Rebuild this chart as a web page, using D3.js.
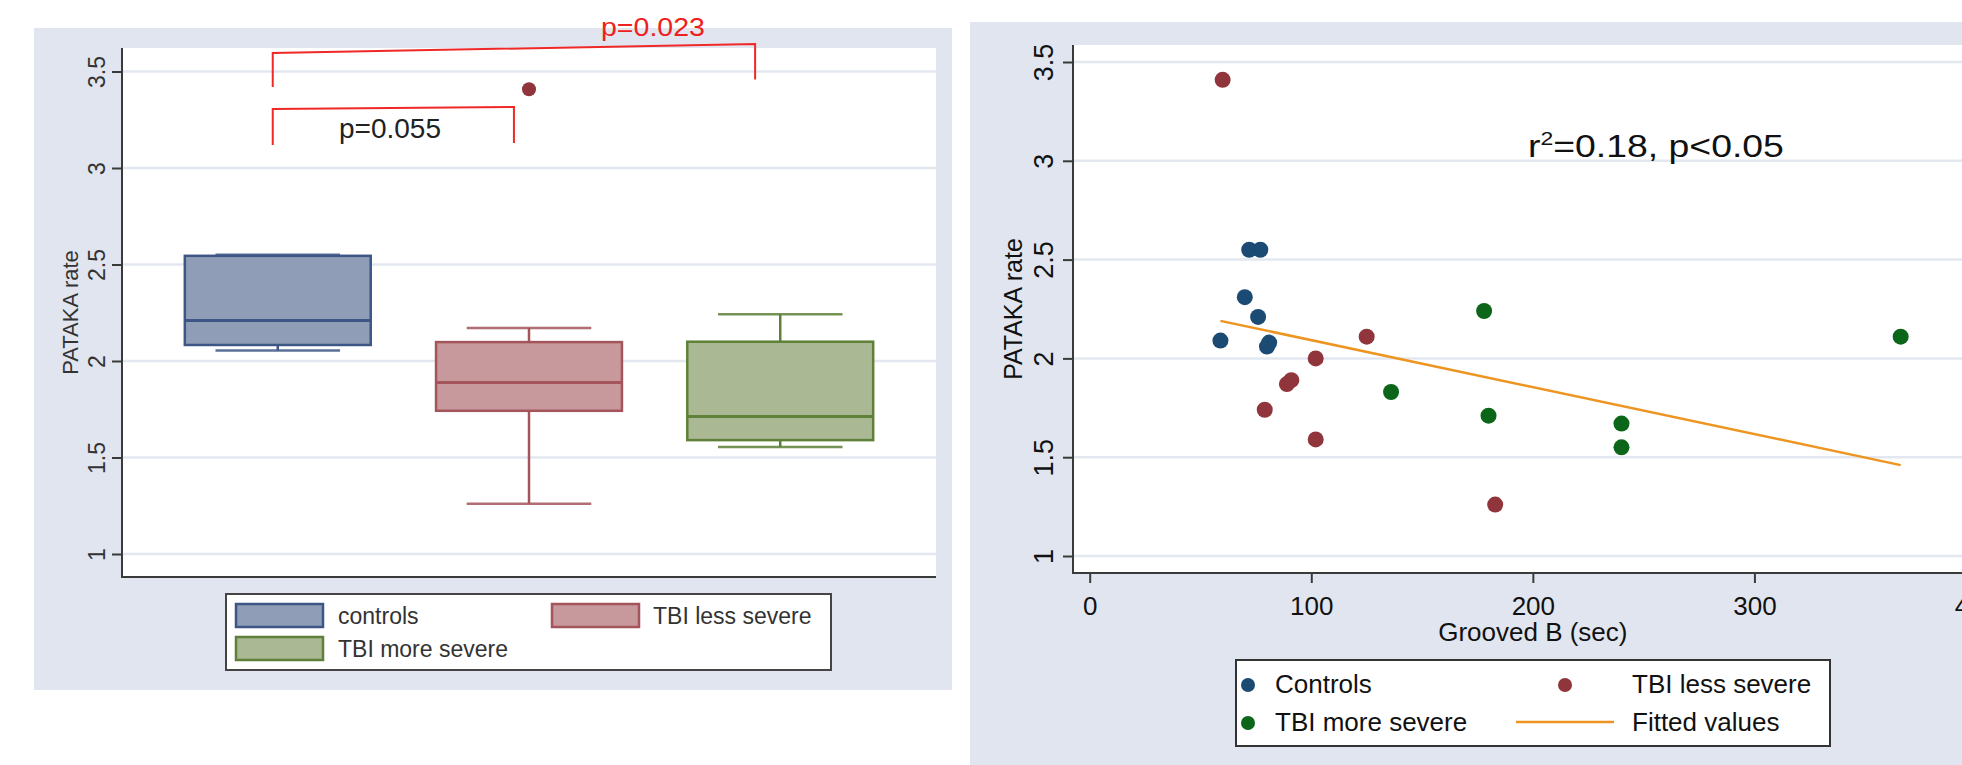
<!DOCTYPE html>
<html><head><meta charset="utf-8">
<script src="https://cdn.jsdelivr.net/npm/d3@7"></script>
<style>
body{margin:0;background:#fff}
svg{display:block}
text{font-family:"Liberation Sans", Arial, sans-serif}
</style>
</head><body>
<svg id="c" width="1962" height="765"></svg>
<script>
// ---------- DATA ----------
// Left: box plot summary per group
const groups = ["controls", "TBI less severe", "TBI more severe"];
const boxWhiskerLow  = [2.055, 1.261, 1.554];
const boxQ1          = [2.083, 1.742, 1.590];
const boxMedian      = [2.210, 1.888, 1.712];
const boxQ3          = [2.545, 2.098, 2.100];
const boxWhiskerHigh = [2.550, 2.171, 2.242];
const outlierGroup   = ["TBI less severe"];
const outlierValue   = [3.408];
const yTicks = [1, 1.5, 2, 2.5, 3, 3.5];
// significance brackets (group-index positions, y values)
const bracketX0 = [-0.02, -0.02];
const bracketX1 = [0.94, 1.90];
const bracketYTop0 = [3.306, 3.596];
const bracketYTop1 = [3.316, 3.642];
const bracketYBot0 = [3.119, 3.420];
const bracketYBot1 = [3.130, 3.459];
const bracketLabels = ["p=0.055", "p=0.023"];

// Right: scatter
const controlsX = [59, 70, 72, 77, 76, 80, 81];
const controlsY = [2.09, 2.31, 2.55, 2.55, 2.21, 2.06, 2.08];
const lessX = [60, 102, 125, 89, 91, 79, 102, 183];
const lessY = [3.41, 2.00, 2.11, 1.87, 1.89, 1.74, 1.59, 1.26];
const moreX = [178, 136, 180, 240, 240, 366];
const moreY = [2.24, 1.83, 1.71, 1.67, 1.55, 2.11];
const fitX = [59, 366];
const fitY = [2.19, 1.46];
const xTicks = [0, 100, 200, 300, 400];
const seriesNames = ["Controls", "TBI less severe", "TBI more severe", "Fitted values"];

// ---------- STYLE ----------
const BG = "#e0e5ef", GRID = "#e2e7f0", AXIS = "#3a3a3a";
const boxFill = ["#8f9db6", "#c8999c", "#abb894"];
const boxStroke = ["#3e5685", "#a4545b", "#5e8038"];
const dotCol = {c: "#1b4a73", l: "#8f353b", m: "#0b661a"};
const lineCol = "#ee9420";

const svg = d3.select("#c");

// ================= LEFT PANEL =================
svg.append("rect").attr("x",34).attr("y",28).attr("width",918).attr("height",662).attr("fill",BG);
const L = {left:122, right:936, top:48, bottom:577};
svg.append("rect").attr("x",L.left).attr("y",L.top).attr("width",L.right-L.left).attr("height",L.bottom-L.top).attr("fill","#fff");

const yL = d3.scaleLinear().domain([1,3.5]).range([554,71.5]);
const xL = d3.scaleBand().domain(groups).range([L.left,L.right]).paddingInner(0.26).paddingOuter(0.25);
const xIdx = d3.scaleLinear().domain([0,2]).range([xL(groups[0])+xL.bandwidth()/2, xL(groups[2])+xL.bandwidth()/2]);

svg.append("g").selectAll("line").data(yTicks).join("line")
  .attr("x1",L.left).attr("x2",L.right).attr("y1",d=>yL(d)).attr("y2",d=>yL(d))
  .attr("stroke",GRID).attr("stroke-width",2.5);

// axes
const axL = svg.append("g").attr("transform",`translate(${L.left},0)`)
  .call(d3.axisLeft(yL).tickValues(yTicks).tickSize(10).tickSizeOuter(0).tickFormat(d3.format("")));
axL.select(".domain").remove();
axL.selectAll(".tick line").attr("stroke",AXIS).attr("stroke-width",2);
axL.selectAll(".tick text").attr("transform","rotate(-90)").attr("x",0).attr("y",-17).attr("dy",null)
  .attr("text-anchor","middle").attr("font-size",23).attr("fill","#333").attr("font-family",null);
svg.append("line").attr("x1",L.left).attr("x2",L.left).attr("y1",L.top).attr("y2",L.bottom).attr("stroke",AXIS).attr("stroke-width",2);
svg.append("line").attr("x1",L.left-1).attr("x2",L.right).attr("y1",L.bottom).attr("y2",L.bottom).attr("stroke",AXIS).attr("stroke-width",2);
svg.append("text").attr("transform",`translate(78,${(L.top+L.bottom)/2}) rotate(-90)`)
  .attr("text-anchor","middle").attr("font-size",22).attr("fill","#333").text("PATAKA rate");

// boxes
const bw = xL.bandwidth(), capW = bw*0.67;
groups.forEach((g,i)=>{
  const cx = xL(g)+bw/2;
  const gg = svg.append("g");
  gg.append("line").attr("x1",cx).attr("x2",cx).attr("y1",yL(boxWhiskerHigh[i])).attr("y2",yL(boxQ3[i]))
    .attr("stroke",boxStroke[i]).attr("stroke-width",2.5);
  gg.append("line").attr("x1",cx).attr("x2",cx).attr("y1",yL(boxQ1[i])).attr("y2",yL(boxWhiskerLow[i]))
    .attr("stroke",boxStroke[i]).attr("stroke-width",2.5);
  [boxWhiskerHigh[i], boxWhiskerLow[i]].forEach(v=>{
    gg.append("line").attr("x1",cx-capW/2).attr("x2",cx+capW/2).attr("y1",yL(v)).attr("y2",yL(v))
      .attr("stroke",boxStroke[i]).attr("stroke-width",2.5).attr("stroke-opacity",0.85);
  });
  gg.append("rect").attr("x",xL(g)).attr("width",bw).attr("y",yL(boxQ3[i])).attr("height",yL(boxQ1[i])-yL(boxQ3[i]))
    .attr("fill",boxFill[i]).attr("stroke",boxStroke[i]).attr("stroke-width",2.5);
  gg.append("line").attr("x1",xL(g)).attr("x2",xL(g)+bw).attr("y1",yL(boxMedian[i])).attr("y2",yL(boxMedian[i]))
    .attr("stroke",boxStroke[i]).attr("stroke-width",3);
});
svg.append("g").selectAll("circle").data(outlierValue).join("circle")
  .attr("cx",(d,i)=>xL(outlierGroup[i])+bw/2).attr("cy",d=>yL(d)).attr("r",7).attr("fill",dotCol.l);

// brackets
bracketLabels.forEach((lab,i)=>{
  const p = [[xIdx(bracketX0[i]), yL(bracketYBot0[i])],[xIdx(bracketX0[i]), yL(bracketYTop0[i])],
             [xIdx(bracketX1[i]), yL(bracketYTop1[i])],[xIdx(bracketX1[i]), yL(bracketYBot1[i])]];
  svg.append("path").attr("d",d3.line()(p)).attr("fill","none").attr("stroke","#f02828").attr("stroke-width",2);
});
svg.append("text").attr("x",390).attr("y",138).attr("text-anchor","middle").attr("font-size",28).attr("fill","#222").text(bracketLabels[0]);
const t023 = svg.append("text").attr("font-size",26).attr("fill","#f02020").text(bracketLabels[1]);
{ const w = t023.node().getComputedTextLength(); t023.attr("transform",`translate(601,36) scale(${104/w},1)`); }

// left legend
const LL = svg.append("g");
LL.append("rect").attr("x",226).attr("y",594).attr("width",605).attr("height",76).attr("fill","#fff").attr("stroke","#444").attr("stroke-width",2);
const legPos = [[236,604,338,624],[552,604,653,624],[236,637,338,657]];
groups.forEach((g,i)=>{
  const [rx,ry,tx,ty] = legPos[i];
  LL.append("rect").attr("x",rx).attr("y",ry).attr("width",87).attr("height",23).attr("fill",boxFill[i]).attr("stroke",boxStroke[i]).attr("stroke-width",2.5);
  LL.append("text").attr("x",tx).attr("y",ty).attr("font-size",23).attr("fill","#333").text(g);
});

// ================= RIGHT PANEL =================
svg.append("rect").attr("x",970).attr("y",22).attr("width",992).attr("height",743).attr("fill",BG);
const R = {left:1073, right:1962, top:45, bottom:573};
svg.append("rect").attr("x",R.left).attr("y",R.top).attr("width",R.right-R.left).attr("height",R.bottom-R.top).attr("fill","#fff");
const xR = d3.scaleLinear().domain([0,400]).range([1089.7,1976]);
const yR = d3.scaleLinear().domain([1,3.5]).range([556,62]);

svg.append("g").selectAll("line").data(yTicks).join("line")
  .attr("x1",R.left).attr("x2",R.right).attr("y1",d=>yR(d)).attr("y2",d=>yR(d))
  .attr("stroke",GRID).attr("stroke-width",2.5);

const ayR = svg.append("g").attr("transform",`translate(${R.left},0)`)
  .call(d3.axisLeft(yR).tickValues(yTicks).tickSize(10).tickSizeOuter(0).tickFormat(d3.format("")));
ayR.select(".domain").remove();
ayR.selectAll(".tick line").attr("stroke",AXIS).attr("stroke-width",2);
ayR.selectAll(".tick text").attr("transform","rotate(-90)").attr("x",0).attr("y",-20).attr("dy",null)
  .attr("text-anchor","middle").attr("font-size",27).attr("fill","#111").attr("font-family",null);
const axR = svg.append("g").attr("transform",`translate(0,${R.bottom})`)
  .call(d3.axisBottom(xR).tickValues(xTicks).tickSize(10).tickSizeOuter(0));
axR.select(".domain").remove();
axR.selectAll(".tick line").attr("stroke",AXIS).attr("stroke-width",2);
axR.selectAll(".tick text").attr("y",41.5).attr("dy",null).attr("font-size",26).attr("fill","#111").attr("font-family",null);
svg.append("line").attr("x1",R.left).attr("x2",R.left).attr("y1",R.top).attr("y2",R.bottom).attr("stroke",AXIS).attr("stroke-width",2);
svg.append("line").attr("x1",R.left-1).attr("x2",R.right).attr("y1",R.bottom).attr("y2",R.bottom).attr("stroke",AXIS).attr("stroke-width",2);
svg.append("text").attr("transform",`translate(1022,${(R.top+R.bottom)/2}) rotate(-90)`)
  .attr("text-anchor","middle").attr("font-size",25).attr("fill","#111").text("PATAKA rate");
svg.append("text").attr("x",xR(200)).attr("y",641).attr("text-anchor","middle").attr("font-size",26).attr("fill","#111").text("Grooved B (sec)");

// fitted line
svg.append("path").attr("d",d3.line().x(d=>xR(d[0])).y(d=>yR(d[1]))(d3.zip(fitX,fitY)))
  .attr("fill","none").attr("stroke",lineCol).attr("stroke-width",2.5);
// points
[[controlsX,controlsY,dotCol.c],[lessX,lessY,dotCol.l],[moreX,moreY,dotCol.m]].forEach(([xs,ys,c])=>{
  svg.append("g").selectAll("circle").data(d3.zip(xs,ys)).join("circle")
    .attr("cx",d=>xR(d[0])).attr("cy",d=>yR(d[1])).attr("r",8).attr("fill",c);
});

// annotation
const ann = svg.append("text").attr("font-size",31).attr("fill","#111");
ann.append("tspan").text("r");
ann.append("tspan").attr("font-size",19).attr("dy",-12).text("2");
ann.append("tspan").attr("dy",12).text("=0.18, p<0.05");
{ const w = ann.node().getComputedTextLength(); ann.attr("transform",`translate(1528,157) scale(${256/w},1)`); }

// right legend
const RL = svg.append("g");
RL.append("rect").attr("x",1236).attr("y",660).attr("width",594).attr("height",86).attr("fill","#fff").attr("stroke","#333").attr("stroke-width",2);
RL.append("circle").attr("cx",1248).attr("cy",685).attr("r",7).attr("fill",dotCol.c);
RL.append("text").attr("x",1275).attr("y",693).attr("font-size",26).attr("fill","#111").text(seriesNames[0]);
RL.append("circle").attr("cx",1565).attr("cy",685).attr("r",7).attr("fill",dotCol.l);
RL.append("text").attr("x",1632).attr("y",693).attr("font-size",26).attr("fill","#111").text(seriesNames[1]);
RL.append("circle").attr("cx",1248).attr("cy",723).attr("r",7).attr("fill",dotCol.m);
RL.append("text").attr("x",1275).attr("y",731).attr("font-size",26).attr("fill","#111").text(seriesNames[2]);
RL.append("line").attr("x1",1516).attr("x2",1614).attr("y1",722).attr("y2",722).attr("stroke",lineCol).attr("stroke-width",2.5);
RL.append("text").attr("x",1632).attr("y",731).attr("font-size",26).attr("fill","#111").text(seriesNames[3]);
</script>
</body></html>
